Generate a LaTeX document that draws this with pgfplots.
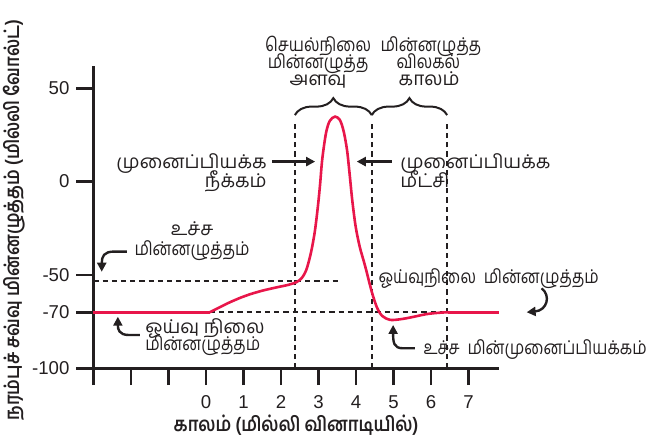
\documentclass[border=0pt]{standalone}
\usepackage{fontspec}
\setmainfont{Liberation Sans}
\newfontfamily\tam[Script=Tamil, FakeStretch=1.0]{Hind Madurai}
\newfontfamily\tamn[Script=Tamil, FakeStretch=0.85]{Hind Madurai}
\newfontfamily\tamb[Script=Tamil, FakeStretch=0.86]{Hind Madurai}
\usepackage{pgfplots}
\pgfplotsset{compat=1.18}
\usetikzlibrary{arrows.meta,decorations.pathreplacing}
\definecolor{apred}{RGB}{232,22,74}
\definecolor{ink}{RGB}{35,31,32}
\begin{document}
\begin{tikzpicture}[
  ann/.style={font=\tam\fontsize{9.5}{11}\selectfont, text=ink, inner sep=0pt},
  annn/.style={font=\tamn\fontsize{9.5}{11}\selectfont, text=ink, inner sep=0pt},
  arr/.style={line width=1.2pt, draw=ink, -{Triangle[length=4.5pt,width=4.5pt]}}]
\begin{axis}[
  scale only axis, width=202.5pt, height=151.2pt,
  xmin=-3, xmax=7.8, ymin=-100, ymax=62,
  axis lines*=left,
  axis line style={line width=1.4pt, draw=ink},
  xtick={-3,-2,-1,0,1,2,3,4,5,6,7},
  xticklabels={,,,0,1,2,3,4,5,6,7},
  ytick={-100,-70,-50,0,50},
  tick align=outside, major tick length=8.5pt,
  every tick/.style={line width=1.4pt, draw=ink},
  tick label style={font=\fontsize{9.3}{11}\selectfont, text=ink},
  xticklabel style={yshift=-1.6pt},
  /pgf/number format/assume math mode=true,
  clip=false,
  xlabel={\tamb\bfseries காலம் (மில்லி வினாடியில்)},
  ylabel={\tamb\bfseries நரம்புச் சவ்வு மின்னழுத்தம் (மில்லி வோல்ட்)},
  every axis x label/.style={at={(rel axis cs:0.5,-0.1875)}, anchor=center, font=\fontsize{10}{12}\selectfont, text=ink},
  every axis y label/.style={at={(rel axis cs:-0.196,0.49)}, anchor=center, rotate=90, font=\fontsize{10}{12}\selectfont, text=ink},
]
% reference dashed lines
\addplot[ink, line width=1pt, dash pattern=on 2.6pt off 2pt] coordinates {(-3,-53) (3.62,-53)};
\addplot[ink, line width=1pt, dash pattern=on 2.6pt off 2pt] coordinates {(0.1,-70) (6.43,-70)};
\addplot[ink, line width=1pt, dash pattern=on 2.6pt off 2pt] coordinates {(2.37,-100) (2.37,32)};
\addplot[ink, line width=1pt, dash pattern=on 2.6pt off 2pt] coordinates {(4.42,-100) (4.42,32)};
\addplot[ink, line width=1pt, dash pattern=on 2.6pt off 2pt] coordinates {(6.43,-100) (6.43,32)};
% action potential
\addplot[apred, line width=1.3pt] coordinates {(-3,-70) (0.1,-70)};
\addplot[apred, line width=1.3pt, smooth, tension=0.5] coordinates {
 (0.1,-70) (0.35,-67.5) (0.6,-65) (0.91,-62.3) (1.2,-60.2) (1.53,-58.3) (1.9,-56.6) (2.2,-55.3)
 (2.42,-53.8) (2.56,-51.5) (2.68,-47) (2.8,-38) (2.9,-27) (2.98,-14) (3.04,-2) (3.1,12) (3.2,26)
 (3.3,32.5) (3.44,34.8) (3.57,33) (3.67,27) (3.76,17) (3.83,4) (3.9,-10) (3.99,-24) (4.1,-35)
 (4.24,-45) (4.42,-59) (4.56,-67.5) (4.7,-72) (4.91,-74.1) (5.2,-73.7) (5.5,-72.6) (5.88,-71)
 (6.2,-70.3) (6.45,-70)};
\addplot[apred, line width=1.3pt] coordinates {(6.45,-70) (7.8,-70)};
% braces
\draw[ink, line width=1pt, decorate, decoration={brace, amplitude=8.5pt}] (axis cs:2.37,35.6) -- (axis cs:4.42,35.6);
\draw[ink, line width=1pt, decorate, decoration={brace, amplitude=8.5pt}] (axis cs:4.42,35.6) -- (axis cs:6.43,35.6);
\node[annn, anchor=mid] at (axis cs:2.99,72.6) {செயல்நிலை};
\node[annn, anchor=mid] at (axis cs:2.99,63.4) {மின்னழுத்த};
\node[ann, anchor=mid] at (axis cs:2.99,54.2) {அளவு};
\node[annn, anchor=mid] at (axis cs:6.0,72.6) {மின்னழுத்த};
\node[annn, anchor=mid] at (axis cs:5.93,63.4) {விலகல்};
\node[ann, anchor=mid] at (axis cs:5.95,54.2) {காலம்};
% depolarisation
\node[ann, anchor=mid east] at (axis cs:1.63,10.0) {முனைப்பியக்க};
\node[ann, anchor=mid east] at (axis cs:1.63,-0.2) {நீக்கம்};
\draw[arr] (axis cs:1.76,10.7) -- (axis cs:2.91,10.7);
% repolarisation
\node[ann, anchor=mid west] at (axis cs:5.17,10.0) {முனைப்பியக்க};
\node[ann, anchor=mid west] at (axis cs:5.17,-0.2) {மீட்சி};
\draw[arr] (axis cs:4.95,10.7) -- (axis cs:4.02,10.7);
% threshold
\node[ann, anchor=mid] at (axis cs:-0.37,-25.9) {உச்ச};
\node[annn, anchor=mid] at (axis cs:-0.37,-36.6) {மின்னழுத்தம்};
\draw[arr] (axis cs:-2.11,-37.5) -- (axis cs:-2.45,-37.5) .. controls (axis cs:-2.72,-37.5) and (axis cs:-2.78,-40) .. (axis cs:-2.78,-48.3);
% resting (left)
\node[ann, anchor=mid west] at (axis cs:-1.63,-78.4) {ஓய்வு நிலை};
\node[annn, anchor=mid west] at (axis cs:-1.63,-87.5) {மின்னழுத்தம்};
\draw[arr] (axis cs:-1.76,-82.2) -- (axis cs:-2.05,-82.2) .. controls (axis cs:-2.33,-82.2) and (axis cs:-2.35,-79) .. (axis cs:-2.35,-72.4);
% resting (right)
\node[annn, anchor=mid west] at (axis cs:4.59,-51.6) {ஓய்வுநிலை\ \ மின்னழுத்தம்};
\draw[arr] (axis cs:8.95,-57.2) .. controls (axis cs:9.2,-61) and (axis cs:9.1,-69) .. (axis cs:8.55,-70);
% hyperpolarisation
\node[annn, anchor=mid west] at (axis cs:5.79,-89.8) {உச்ச\ \ மின்முனைப்பியக்கம்};
\draw[arr] (axis cs:5.57,-89.3) -- (axis cs:5.25,-89.3) .. controls (axis cs:5.0,-89.3) and (axis cs:4.99,-86) .. (axis cs:4.99,-76.8);
\coordinate (bl) at (axis cs:-5.493,-137.87);
\coordinate (tr) at (axis cs:11.973,97.27);
\end{axis}
\pgfresetboundingbox
\path (bl) rectangle (tr);
\end{tikzpicture}
\end{document}
